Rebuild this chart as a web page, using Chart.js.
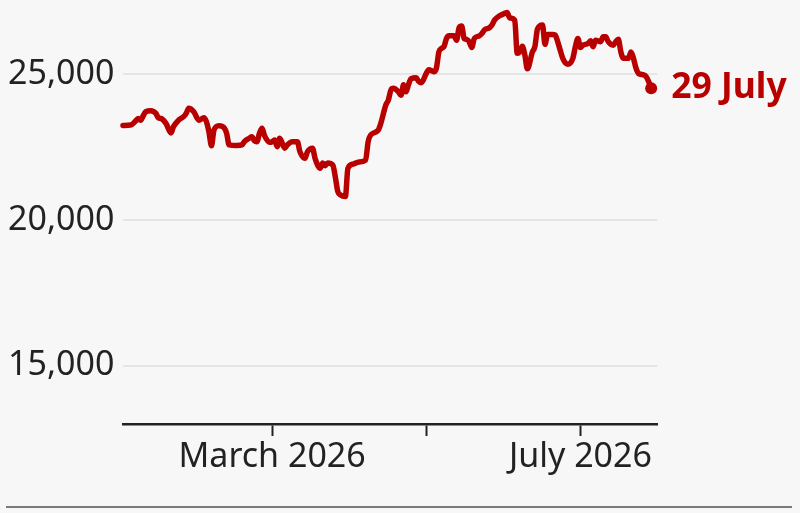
<!DOCTYPE html>
<html>
<head>
<meta charset="utf-8">
<script src="https://cdn.jsdelivr.net/npm/chart.js@4"></script>
<style>
    body { margin: 0; background: #f7f7f7; }
    #wrap { position: relative; width: 800px; height: 513px; }
    #rule { position: absolute; left: 6px; right: 8px; top: 506px; border-top: 2px solid #7a7a7a; }
</style>
</head>
<body>
<div id="wrap">
    <canvas id="myChart" width="800" height="513"></canvas>
    <div id="rule"></div>
</div>
<script>
// index values
const dates = [
    '2026-01-01', '2026-01-04', '2026-01-06', '2026-01-07', '2026-01-08', '2026-01-09', '2026-01-10', '2026-01-12',
    '2026-01-14', '2026-01-15', '2026-01-16', '2026-01-18', '2026-01-20', '2026-01-21', '2026-01-23', '2026-01-25',
    '2026-01-26', '2026-01-27', '2026-01-29', '2026-01-31', '2026-02-02', '2026-02-03', '2026-02-04', '2026-02-05',
    '2026-02-06', '2026-02-08', '2026-02-10', '2026-02-11', '2026-02-12', '2026-02-15', '2026-02-17', '2026-02-18',
    '2026-02-20', '2026-02-21', '2026-02-22', '2026-02-23', '2026-02-24', '2026-02-25', '2026-02-26', '2026-02-28',
    '2026-03-01', '2026-03-02', '2026-03-03', '2026-03-04', '2026-03-06', '2026-03-07', '2026-03-09', '2026-03-11',
    '2026-03-12', '2026-03-14', '2026-03-15', '2026-03-17', '2026-03-18', '2026-03-20', '2026-03-21', '2026-03-22',
    '2026-03-23', '2026-03-25', '2026-03-26', '2026-03-27', '2026-03-28', '2026-03-30', '2026-03-31', '2026-04-02',
    '2026-04-04', '2026-04-07', '2026-04-08', '2026-04-09', '2026-04-12', '2026-04-13', '2026-04-15', '2026-04-16',
    '2026-04-17', '2026-04-18', '2026-04-20', '2026-04-21', '2026-04-22', '2026-04-23', '2026-04-24', '2026-04-25',
    '2026-04-27', '2026-04-28', '2026-04-29', '2026-05-01', '2026-05-02', '2026-05-04', '2026-05-05', '2026-05-06',
    '2026-05-07', '2026-05-08', '2026-05-09', '2026-05-10', '2026-05-12', '2026-05-13', '2026-05-14', '2026-05-15',
    '2026-05-16', '2026-05-17', '2026-05-18', '2026-05-19', '2026-05-20', '2026-05-22', '2026-05-23', '2026-05-24',
    '2026-05-26', '2026-05-27', '2026-05-28', '2026-05-30', '2026-06-01', '2026-06-02', '2026-06-03', '2026-06-05',
    '2026-06-06', '2026-06-07', '2026-06-08', '2026-06-09', '2026-06-10', '2026-06-12', '2026-06-13', '2026-06-14',
    '2026-06-16', '2026-06-17', '2026-06-18', '2026-06-20', '2026-06-21', '2026-06-22', '2026-06-23', '2026-06-24',
    '2026-06-25', '2026-06-26', '2026-06-28', '2026-06-29', '2026-06-30', '2026-07-01', '2026-07-02', '2026-07-04',
    '2026-07-05', '2026-07-06', '2026-07-07', '2026-07-09', '2026-07-10', '2026-07-11', '2026-07-12', '2026-07-14',
    '2026-07-15', '2026-07-16', '2026-07-17', '2026-07-18', '2026-07-20', '2026-07-21', '2026-07-22', '2026-07-23',
    '2026-07-24', '2026-07-26', '2026-07-27', '2026-07-28', '2026-07-29'
];
const values = [
    23240, 23250, 23390, 23480, 23420, 23570, 23710, 23740,
    23650, 23500, 23480, 23310, 22980, 23200, 23420, 23540,
    23650, 23830, 23710, 23420, 23500, 23370, 23020, 22540,
    23080, 23230, 23160, 22970, 22570, 22550, 22570, 22680,
    22800, 22850, 22710, 22680, 22970, 23140, 22890, 22660,
    22680, 22740, 22510, 22800, 22460, 22570, 22680, 22680,
    22340, 22110, 22340, 22460, 22110, 21770, 21950, 21860,
    21950, 21880, 21480, 20970, 20860, 20800, 21770, 21910,
    21980, 22050, 22680, 22910, 23080, 23310, 23940, 24110,
    24450, 24510, 24390, 24270, 24630, 24390, 24650, 24840,
    24870, 24750, 24700, 25020, 25150, 25080, 25200, 25760,
    25880, 25940, 26220, 26310, 26310, 26160, 26590, 26650,
    26220, 26190, 26110, 25910, 26220, 26310, 26390, 26510,
    26590, 26680, 26850, 27000, 27080, 27110, 26930, 26850,
    25710, 25760, 25950, 25660, 25180, 25760, 25950, 26540,
    26680, 26020, 26360, 26360, 26340, 26110, 25820, 25540,
    25390, 25340, 25540, 25940, 26220, 25910, 25990, 26050,
    26140, 25940, 26160, 26110, 26280, 26280, 26110, 25990,
    26110, 26190, 25760, 25540, 25540, 25760, 25540, 25200,
    25020, 24970, 24910, 24740, 24510
];
const yTicks = [15000, 20000, 25000];
const xTicks = ['2026-03-01', '2026-05-01', '2026-07-01'];
const xTickLabels = ['March 2026', '', 'July 2026'];
const monthNames = ['January', 'February', 'March', 'April', 'May', 'June', 'July', 'August'];

const red = '#b80000';
const ink = '#222222';
const font = '"Noto Sans", sans-serif';

// days since 1 Jan 2026
function dayOf(s) {
    var p = s.split('-');
    return (Date.UTC(+p[0], +p[1] - 1, +p[2]) - Date.UTC(2026, 0, 1)) / 86400000;
}

var points = dates.map(function (d, i) { return { x: dayOf(d), y: values[i] }; });
var radii = values.map(function (v, i) { return i === values.length - 1 ? 6 : 0; });

var last = dates[dates.length - 1].split('-');
var endLabel = (+last[2]) + ' ' + monthNames[+last[1] - 1];

// label next to the final dot
const endLabelPlugin = {
    id: 'endLabel',
    afterDatasetsDraw(chart) {
        var meta = chart.getDatasetMeta(0);
        var pt = meta.data[meta.data.length - 1];
        var ctx = chart.ctx;
        ctx.save();
        ctx.font = 'bold 35.5px ' + font;
        ctx.fillStyle = red;
        ctx.textAlign = 'left';
        ctx.textBaseline = 'middle';
        ctx.fillText(endLabel, pt.x + 20, pt.y);
        ctx.restore();
    }
};

var chart = new Chart(document.getElementById('myChart'), {
    type: 'line',
    data: {
        datasets: [{
            data: points,
            borderColor: red,
            backgroundColor: red,
            borderWidth: 5.5,
            borderJoinStyle: 'round',
            borderCapStyle: 'round',
            cubicInterpolationMode: 'monotone',
            pointRadius: radii,
            pointHoverRadius: radii,
            pointBorderWidth: 0,
            clip: false,
        }]
    },
    options: {
        responsive: false,
        animation: false,
        devicePixelRatio: 1,
        layout: { padding: { left: 8, right: 142.5, top: 7, bottom: 0 } },
        plugins: { legend: { display: false }, tooltip: { enabled: false } },
        scales: {
            x: {
                type: 'linear',
                min: 0,
                max: 211.5,
                afterBuildTicks: function (scale) {
                    scale.ticks = xTicks.map(function (d) { return { value: dayOf(d) }; });
                },
                afterFit: function (scale) {
                    scale.height = 89;
                    scale.paddingLeft = 0;
                    scale.paddingRight = 0;
                },
                ticks: {
                    autoSkip: false,
                    maxRotation: 0,
                    padding: 1,
                    color: ink,
                    font: { family: font, size: 34 },
                    callback: function (value, index) { return xTickLabels[index]; }
                },
                grid: {
                    drawOnChartArea: false,
                    drawTicks: true,
                    tickLength: 12,
                    tickWidth: 2,
                    tickColor: ink,
                },
                border: { display: true, color: ink, width: 2.5 }
            },
            y: {
                min: 13000,
                max: 27300,
                afterBuildTicks: function (scale) {
                    scale.ticks = yTicks.map(function (v) { return { value: v }; });
                },
                afterFit: function (scale) {
                    scale.width = 115;
                    scale.paddingTop = 0;
                    scale.paddingBottom = 0;
                },
                ticks: {
                    crossAlign: 'far',
                    color: ink,
                    font: { family: font, size: 34 },
                    callback: function (value) { return value.toLocaleString('en-GB'); }
                },
                grid: { color: '#e5e5e5', lineWidth: 2, drawTicks: false },
                border: { display: false }
            }
        }
    },
    plugins: [endLabelPlugin]
});
</script>
</body>
</html>
